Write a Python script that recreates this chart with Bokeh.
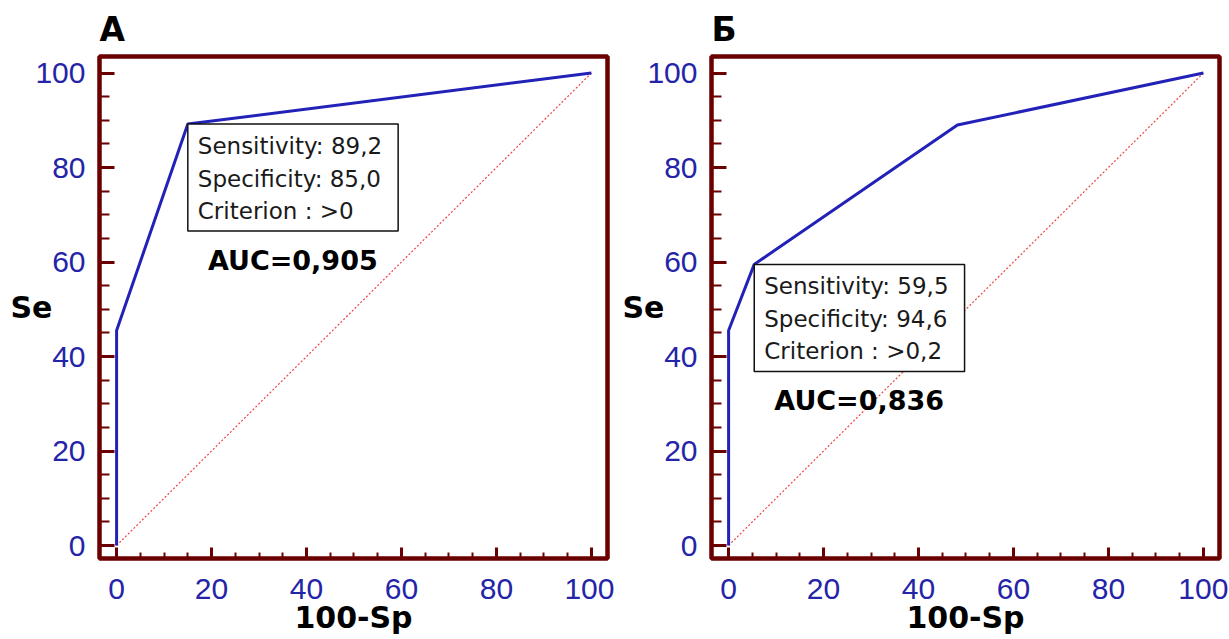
from bokeh.plotting import figure
from bokeh.layouts import row
from bokeh.models import Label, SingleIntervalTicker, Range1d
from bokeh.embed import file_html
from bokeh.resources import INLINE

# ---- data ----
panel_titles = ["А", "Б"]
roc_a_x = [0, 0, 15.0, 100]
roc_a_y = [0, 45.5, 89.2, 100]
roc_b_x = [0, 0, 5.4, 48.2, 100]
roc_b_y = [0, 45.5, 59.5, 89.0, 100]
diag_x = [0, 100]
diag_y = [0, 100]
box_a_text = "Sensitivity: 89,2\nSpecificity: 85,0\nCriterion : >0"
box_b_text = "Sensitivity: 59,5\nSpecificity: 94,6\nCriterion : >0,2"
auc_a_text = "AUC=0,905"
auc_b_text = "AUC=0,836"
cut_a_index = 2
cut_b_index = 2
x_label = "100-Sp"
y_label = "Se"

FRAME = "#6b0000"
TICKLBL = "#2424a8"
ROC = "#2222b8"


def make_panel(title, rx, ry, ci, box_text, auc_text, width, bl, br):
    p = figure(width=width, height=639, output_backend="svg", toolbar_location=None,
               x_range=Range1d(-3.6, 103.4), y_range=Range1d(-2.75, 103.5),
               min_border_left=bl, min_border_right=br, min_border_top=56,
               min_border_bottom=81, title=title)
    p.grid.visible = False
    p.outline_line_color = FRAME
    p.outline_line_width = 4.5
    p.background_fill_color = "white"
    p.border_fill_color = "white"

    p.title.text_font = "DejaVu Sans"
    p.title.text_font_size = "33px"
    p.title.text_font_style = "bold"
    p.title.text_color = "black"
    p.title.align = "left"
    p.title.standoff = 15

    for ax in (p.xaxis[0], p.yaxis[0]):
        ax.ticker = SingleIntervalTicker(interval=20, num_minor_ticks=4)
        ax.axis_line_color = None
        ax.major_tick_line_color = FRAME
        ax.minor_tick_line_color = FRAME
        ax.major_tick_line_width = 3
        ax.minor_tick_line_width = 2
        ax.major_tick_out = 0
        ax.minor_tick_out = 0
        ax.major_label_text_font = "Liberation Sans"
        ax.major_label_text_font_size = "30px"
        ax.major_label_text_color = TICKLBL
        ax.axis_label_text_font = "DejaVu Sans"
        ax.axis_label_text_font_size = "30px"
        ax.axis_label_text_font_style = "bold"
        ax.axis_label_text_color = "black"

    xa = p.xaxis[0]
    xa.major_tick_in = 11
    xa.minor_tick_in = 6
    xa.major_label_standoff = 20
    xa.axis_label = x_label
    xa.axis_label_standoff = -2

    ya = p.yaxis[0]
    ya.major_tick_in = 15
    ya.minor_tick_in = 10
    ya.major_label_standoff = 14
    ya.axis_label = y_label
    ya.axis_label_orientation = "horizontal"
    ya.axis_label_standoff = -20

    p.line(diag_x, diag_y, line_color="#ee4444", line_width=1.2, line_dash="2 2")
    p.line(rx, ry, line_color=ROC, line_width=3)

    box = Label(x=rx[ci], y=ry[ci], text=box_text, anchor="top_left",
                text_font="DejaVu Sans", text_font_size="23px", text_color="#1a1a1a",
                text_line_height=1.25,
                background_fill_color="white", border_line_color="#111111",
                border_line_width=1.5, padding=(10, 16, 9, 7))
    p.add_layout(box)

    auc = Label(x=rx[ci], y=ry[ci], text=auc_text, text_align="center",
                text_baseline="alphabetic", x_offset=105, y_offset=-136,
                text_font="DejaVu Sans", text_font_size="27px", text_font_style="bold",
                text_color="black")
    p.add_layout(auc)
    return p


pa = make_panel(panel_titles[0], roc_a_x, roc_a_y, cut_a_index, box_a_text, auc_a_text, 614, 99, 7)
pb = make_panel(panel_titles[1], roc_b_x, roc_b_y, cut_b_index, box_b_text, auc_b_text, 615, 97, 10)

layout = row(pa, pb)
open("out.html", "w").write(file_html(layout, INLINE))
